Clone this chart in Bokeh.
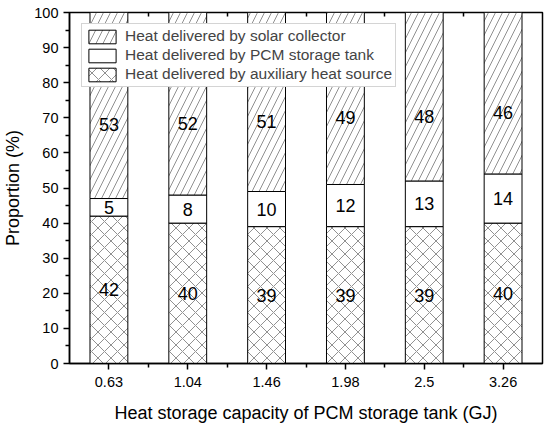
import numpy as np
from bokeh.plotting import figure
from bokeh.models import (ColumnDataSource, FixedTicker, LinearAxis, Legend,
                          LegendItem, Range1d, LabelSet)
from bokeh.core.properties import value
from bokeh.embed import file_html
from bokeh.resources import INLINE

categories = ["0.63", "1.04", "1.46", "1.98", "2.5", "3.26"]
auxiliary = [42, 40, 39, 39, 39, 40]
pcm = [5, 8, 10, 12, 13, 14]
solar = [53, 52, 51, 49, 48, 46]
y_ticks = [0, 10, 20, 30, 40, 50, 60, 70, 80, 90, 100]

FONT = "Liberation Sans"
n = len(categories)
xs = list(range(n))

src = ColumnDataSource(dict(x=xs, auxiliary=auxiliary, pcm=pcm, solar=solar))

p = figure(width=548, height=426, output_backend="svg", toolbar_location=None,
           x_range=Range1d(-0.5, n - 0.5), y_range=Range1d(0, 100),
           min_border_left=68, min_border_right=6, min_border_top=12,
           min_border_bottom=63, background_fill_color="white",
           border_fill_color="white")
p.grid.visible = False
p.outline_line_color = "black"
p.outline_line_width = 1.5

rs = p.vbar_stack(["auxiliary", "pcm", "solar"], x="x", width=0.48, source=src,
                  fill_color="white", line_color="black", line_width=1,
                  hatch_pattern=["x", " ", "/"], hatch_color="#444444",
                  hatch_scale=[13, 13, 14], hatch_weight=0.6)

# labels
aux_arr = np.array(auxiliary, dtype=float)
pcm_arr = np.array(pcm, dtype=float)
sol_arr = np.array(solar, dtype=float)
lab = ColumnDataSource(dict(
    x=xs * 3,
    y=list(aux_arr / 2) + list(aux_arr + pcm_arr / 2)
      + list(aux_arr + pcm_arr + sol_arr / 2 - 5.5),
    t=[str(v) for v in auxiliary] + [str(v) for v in pcm] + [str(v) for v in solar],
))
p.add_layout(LabelSet(x="x", y="y", text="t", source=lab, text_align="center",
                      text_baseline="middle", text_font=value(FONT),
                      text_font_size=value("18px"), text_color="black"))

# axes
xa = p.xaxis[0]
xa.ticker = FixedTicker(ticks=xs, minor_ticks=[i + 0.5 for i in xs[:-1]])
xa.major_label_overrides = {i: c for i, c in zip(xs, categories)}
xa.axis_label = "Heat storage capacity of PCM storage tank (GJ)"
ya = p.yaxis[0]
ya.ticker = FixedTicker(ticks=y_ticks, minor_ticks=[v + 5 for v in y_ticks[:-1]])
ya.axis_label = "Proportion (%)"
for ax in (xa, ya):
    ax.axis_line_width = 1.5
    ax.axis_line_color = "black"
    ax.major_tick_line_width = 1.5
    ax.minor_tick_line_width = 1.5
    ax.major_tick_in = 0
    ax.major_tick_out = 6
    ax.minor_tick_in = 0
    ax.minor_tick_out = 4
    ax.major_label_text_font = FONT
    ax.major_label_text_font_size = "14.5px"
    ax.major_label_text_color = "black"
    ax.axis_label_text_font = FONT
    ax.axis_label_text_font_size = "18px"
    ax.axis_label_text_font_style = "normal"
    ax.axis_label_text_color = "black"
xa.major_label_standoff = 7
xa.axis_label_standoff = 13
ya.major_label_standoff = 5
ya.axis_label_standoff = 8

top = LinearAxis(ticker=FixedTicker(ticks=[], minor_ticks=[i + 0.5 for i in xs[:-1]]),
                 axis_line_color=None, major_tick_line_color=None,
                 minor_tick_line_color="black", minor_tick_line_width=1.5,
                 minor_tick_in=4, minor_tick_out=0,
                 major_label_text_font_size="0px", major_label_standoff=0)
p.add_layout(top, "above")

legend = Legend(items=[
    LegendItem(label="Heat delivered by solar collector", renderers=[rs[2]]),
    LegendItem(label="Heat delivered by PCM storage tank", renderers=[rs[1]]),
    LegendItem(label="Heat delivered by auxiliary heat source", renderers=[rs[0]]),
], location=(12, 276), label_text_font=FONT, label_text_font_size="15.5px",
    glyph_width=34, glyph_height=17, label_height=17, spacing=1, padding=3,
    margin=0, label_standoff=6, border_line_color="#aaaaaa", border_line_width=1,
    background_fill_color="white", background_fill_alpha=1.0)
p.add_layout(legend)

open("out.html", "w").write(file_html(p, INLINE))
